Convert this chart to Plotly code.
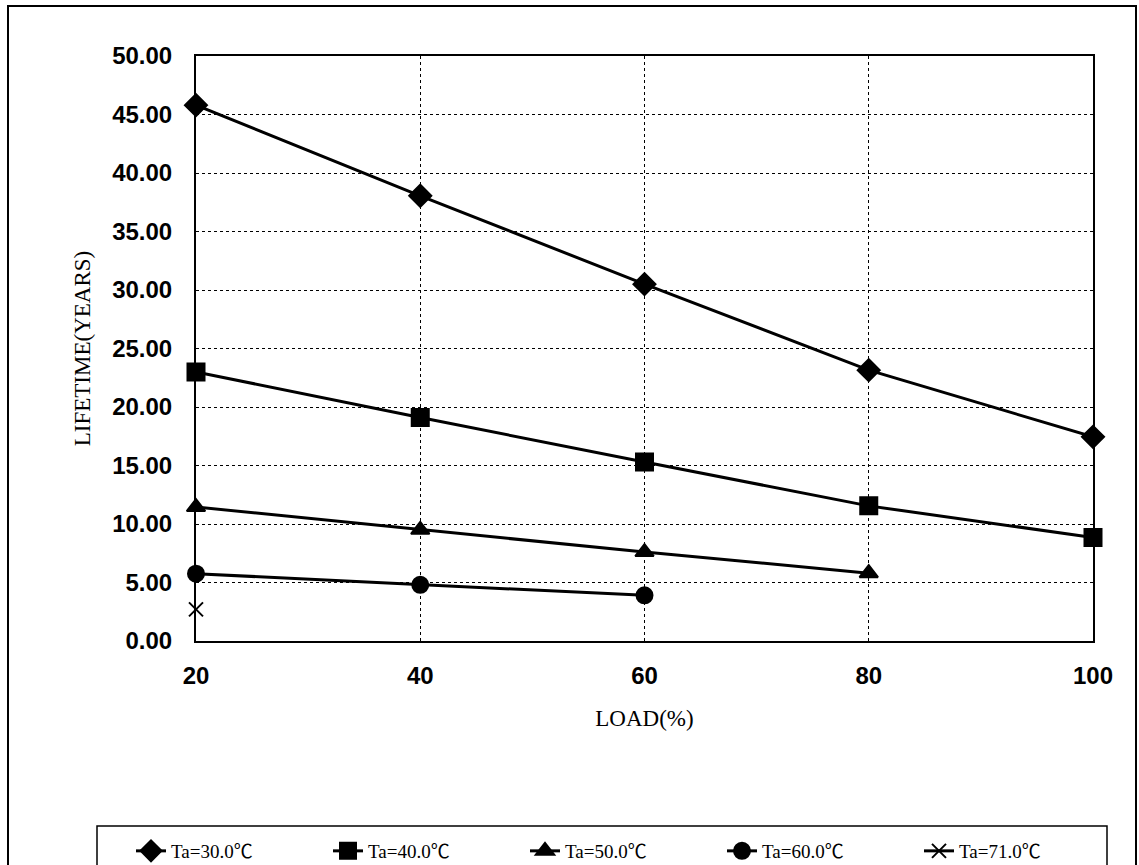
import plotly.graph_objects as go

load = [20, 40, 60, 80, 100]
ta30 = [45.8, 38.05, 30.5, 23.15, 17.45]
ta40 = [23.0, 19.1, 15.3, 11.55, 8.85]
ta50 = [11.45, 9.5, 7.6, 5.8]
ta60 = [5.75, 4.8, 3.9]
ta71 = [2.7]
names = ["Ta=30.0℃", "Ta=40.0℃", "Ta=50.0℃", "Ta=60.0℃", "Ta=71.0℃"]
series = [ta30, ta40, ta50, ta60, ta71]
symbols = ["diamond", "square", "triangle-up", "circle", "x-thin-open"]
sizes = [17, 17, 16, 16, 14]

W, H = 1139, 905
L, R, T = 196, 46, 56
BOTTOM_PX = 641
B = H - BOTTOM_PX
pw, ph = W - L - R, H - T - B

def px(x):
    return (x - L) / pw

def py(y):
    return (BOTTOM_PX - y) / ph

fig = go.Figure()
for nm, ys, sym, sz in zip(names, series, symbols, sizes):
    fig.add_trace(go.Scatter(
        x=load[:len(ys)], y=ys, name=nm, mode="lines+markers",
        line=dict(color="black", width=3),
        marker=dict(symbol=sym, size=sz, color="black",
                    line=dict(color="black", width=2)),
        cliponaxis=False,
    ))

axis_common = dict(
    showline=True, linecolor="black", linewidth=2, mirror=True,
    showgrid=True, gridcolor="black", gridwidth=1, griddash="dot",
    zeroline=False, ticks="",
    tickfont=dict(family="Liberation Sans", size=24, color="black", weight="bold"),
)

fig.update_layout(
    width=W, height=H,
    margin=dict(l=L, r=R, t=T, b=B),
    paper_bgcolor="white", plot_bgcolor="white",
    xaxis=dict(range=[20, 100], tickvals=load, ticklabelstandoff=12,
               title=dict(text="LOAD(%)", standoff=22,
                          font=dict(family="Liberation Serif", size=23, color="black")),
               **axis_common),
    yaxis=dict(range=[0, 50], dtick=5, tickformat=".2f", ticklabelstandoff=17,
               title=dict(text="LIFETIME(YEARS)", standoff=15,
                          font=dict(family="Liberation Serif", size=23, color="black")),
               **axis_common),
    legend=dict(orientation="h", x=px(131), y=py(851), xanchor="left", yanchor="middle",
                entrywidth=152, entrywidthmode="pixels", borderwidth=0,
                bgcolor="rgba(0,0,0,0)", itemwidth=30,
                font=dict(family="Liberation Serif, Noto Sans CJK JP", size=19, color="black")),
    showlegend=True,
    shapes=[
        dict(type="rect", xref="paper", yref="paper",
             x0=px(97), x1=px(1107), y0=py(890), y1=py(826),
             line=dict(color="black", width=1.5), fillcolor="rgba(0,0,0,0)", layer="below"),
        dict(type="rect", xref="paper", yref="paper",
             x0=px(8), x1=px(1136), y0=py(900), y1=py(6),
             line=dict(color="black", width=2), fillcolor="rgba(0,0,0,0)", layer="below"),
    ],
)

fig.write_html("out.html", config={"displayModeBar": False},
               post_script="document.body.style.margin='0px';document.body.style.overflow='hidden';")
